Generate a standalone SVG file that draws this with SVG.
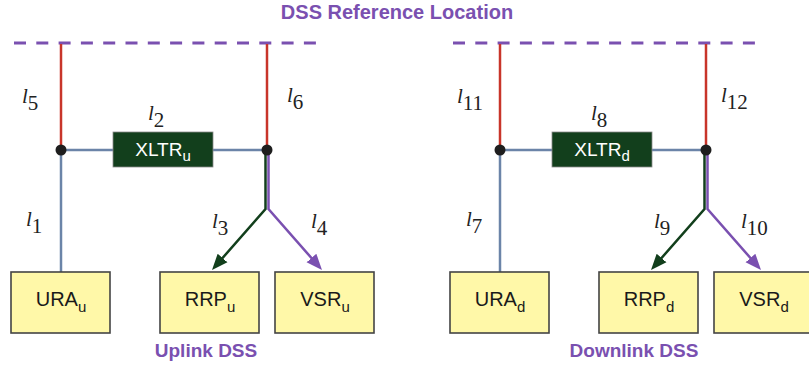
<svg xmlns="http://www.w3.org/2000/svg" width="809" height="379" viewBox="0 0 809 379">
<style>
.ttl{font-family:"Liberation Sans",Arial,sans-serif;font-weight:bold;fill:#7a50b0}
.box{fill:#fff8a8;stroke:#444;stroke-width:1.6}
.xl{fill:#123f1c;stroke:#8a8a8a;stroke-width:0.8}
.bt{font-family:"Liberation Sans",Arial,sans-serif;font-size:20px;fill:#1a1a1a;text-anchor:middle}
.wt{font-family:"Liberation Sans",Arial,sans-serif;font-size:19px;fill:#ffffff;text-anchor:middle}
.sub{font-size:15px}
.lbl{font-family:"Liberation Serif","Times New Roman",serif;font-size:21px;fill:#222}
.li{font-style:italic}
.dash{stroke:#7a50b0;stroke-width:3;stroke-dasharray:12 10.3;fill:none}
.red{stroke:#c8352a;stroke-width:2.5;fill:none}
.blu{stroke:#6b84a8;stroke-width:2.5;fill:none}
.grn{stroke:#123f1c;stroke-width:2.5;fill:none}
.pur{stroke:#7a50b0;stroke-width:2.5;fill:none}
.dot{fill:#1e1e1e}
</style>
<defs>
<marker id="ag" markerUnits="userSpaceOnUse" markerWidth="20" markerHeight="16" refX="6" refY="0" viewBox="0 -8 20 16" orient="auto"><path d="M0,-6.5 L16,0 L0,6.5 z" fill="#123f1c"/></marker>
<marker id="ap" markerUnits="userSpaceOnUse" markerWidth="20" markerHeight="16" refX="6" refY="0" viewBox="0 -8 20 16" orient="auto"><path d="M0,-6.5 L16,0 L0,6.5 z" fill="#7a50b0"/></marker>
</defs>

<text class="ttl" x="397" y="18.5" font-size="20" text-anchor="middle">DSS Reference Location</text>

<g id="connectors">
<line class="dash" x1="14" y1="43" x2="316" y2="43"/>
<line class="dash" x1="453" y1="43" x2="755" y2="43"/>
<line class="red" x1="61" y1="44" x2="61" y2="150"/>
<line class="red" x1="267" y1="44" x2="267" y2="150"/>
<line class="blu" x1="61" y1="150" x2="113" y2="150"/>
<line class="blu" x1="213" y1="150" x2="267" y2="150"/>
<line class="blu" x1="61" y1="150" x2="61" y2="272"/>
<polyline class="grn" points="265.5,150 265.5,209 218.6,262.5" marker-end="url(#ag)"/>
<polyline class="pur" points="268.5,150 268.5,209 315.4,262.5" marker-end="url(#ap)"/>
<circle class="dot" cx="61" cy="150" r="5.5"/>
<circle class="dot" cx="267" cy="150" r="5.5"/>
<line class="red" x1="500" y1="44" x2="500" y2="150"/>
<line class="red" x1="706" y1="44" x2="706" y2="150"/>
<line class="blu" x1="500" y1="150" x2="552" y2="150"/>
<line class="blu" x1="652" y1="150" x2="706" y2="150"/>
<line class="blu" x1="500" y1="150" x2="500" y2="272"/>
<polyline class="grn" points="704.5,150 704.5,209 657.6,262.5" marker-end="url(#ag)"/>
<polyline class="pur" points="707.5,150 707.5,209 754.4,262.5" marker-end="url(#ap)"/>
<circle class="dot" cx="500" cy="150" r="5.5"/>
<circle class="dot" cx="706" cy="150" r="5.5"/>
</g>

<g id="xltr-u"><rect class="xl" x="113" y="132" width="100" height="35"/><text class="wt" x="163" y="156">XLTR<tspan class="sub" dy="5">u</tspan></text></g>
<g id="xltr-d"><rect class="xl" x="552" y="132" width="100" height="35"/><text class="wt" x="602" y="156">XLTR<tspan class="sub" dy="5">d</tspan></text></g>

<g id="ura-u"><rect class="box" x="11" y="272" width="99" height="61"/><text class="bt" x="61" y="306">URA<tspan class="sub" dy="6">u</tspan></text></g>
<g id="rrp-u"><rect class="box" x="160" y="272" width="99" height="61"/><text class="bt" x="210" y="306">RRP<tspan class="sub" dy="6">u</tspan></text></g>
<g id="vsr-u"><rect class="box" x="275" y="272" width="99" height="61"/><text class="bt" x="325" y="306">VSR<tspan class="sub" dy="6">u</tspan></text></g>
<g id="ura-d"><rect class="box" x="450" y="272" width="99" height="61"/><text class="bt" x="500" y="306">URA<tspan class="sub" dy="6">d</tspan></text></g>
<g id="rrp-d"><rect class="box" x="599" y="272" width="99" height="61"/><text class="bt" x="649" y="306">RRP<tspan class="sub" dy="6">d</tspan></text></g>
<g id="vsr-d"><rect class="box" x="714" y="272" width="99" height="61"/><text class="bt" x="764" y="306">VSR<tspan class="sub" dy="6">d</tspan></text></g>

<g id="labels">
<text class="lbl" x="22" y="103"><tspan class="li">l</tspan><tspan dy="7">5</tspan></text>
<text class="lbl" x="287" y="102"><tspan class="li">l</tspan><tspan dy="7">6</tspan></text>
<text class="lbl" x="148" y="120"><tspan class="li">l</tspan><tspan dy="7">2</tspan></text>
<text class="lbl" x="26" y="226"><tspan class="li">l</tspan><tspan dy="7">1</tspan></text>
<text class="lbl" x="212" y="228"><tspan class="li">l</tspan><tspan dy="7">3</tspan></text>
<text class="lbl" x="311" y="228"><tspan class="li">l</tspan><tspan dy="7">4</tspan></text>
<text class="lbl" x="457" y="103"><tspan class="li">l</tspan><tspan dy="7">11</tspan></text>
<text class="lbl" x="721" y="102"><tspan class="li">l</tspan><tspan dy="7">12</tspan></text>
<text class="lbl" x="591" y="120"><tspan class="li">l</tspan><tspan dy="7">8</tspan></text>
<text class="lbl" x="466" y="226"><tspan class="li">l</tspan><tspan dy="7">7</tspan></text>
<text class="lbl" x="654" y="228"><tspan class="li">l</tspan><tspan dy="7">9</tspan></text>
<text class="lbl" x="741" y="228"><tspan class="li">l</tspan><tspan dy="7">10</tspan></text>
</g>

<text class="ttl" x="206" y="357" font-size="19" text-anchor="middle">Uplink DSS</text>
<text class="ttl" x="634" y="357" font-size="19" text-anchor="middle">Downlink DSS</text>
</svg>
